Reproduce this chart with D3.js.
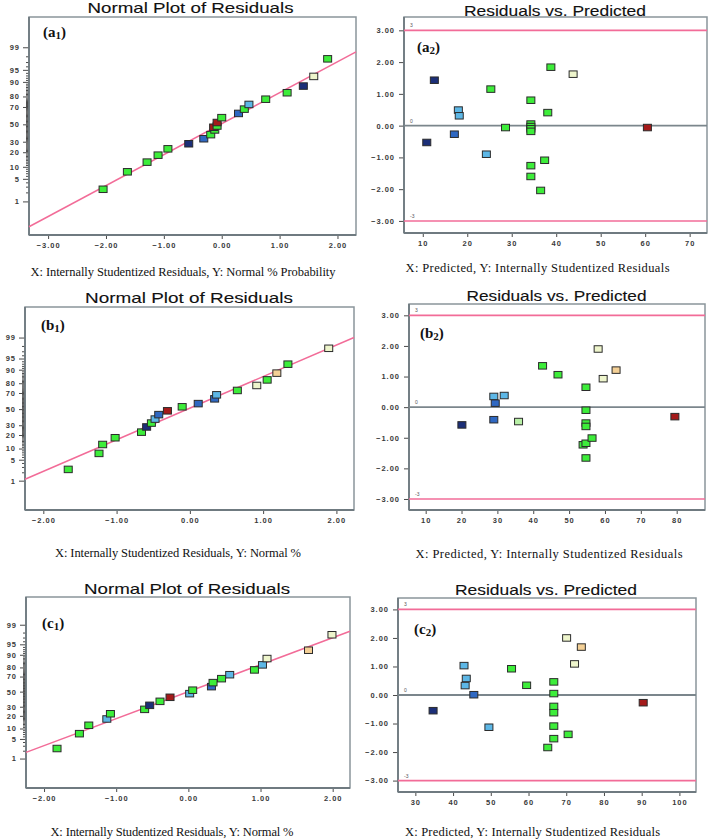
<!DOCTYPE html>
<html><head><meta charset="utf-8">
<script src="https://cdn.jsdelivr.net/npm/d3@7"></script>
<style>body{margin:0;background:#fff}</style></head>
<body><svg id="chart" width="709" height="840"></svg>
<script>
// ---------- DATA ----------
const probTicks = [1, 5, 10, 20, 30, 50, 70, 80, 90, 95, 99];
const resTicks = [-3, -2, -1, 0, 1, 2, 3];

// (a1) normal plot
const a1Res  = [-2.05, -1.63, -1.29, -1.10, -0.93, -0.57, -0.31, -0.19, -0.12, -0.14, -0.08, -0.08, 0.00, 0.29, 0.39, 0.47, 0.76, 1.13, 1.41, 1.59, 1.83];
const a1Prob = [2.5, 7.6, 12.7, 17.6, 23.0, 27.9, 33.2, 37.8, 43.3, 46.5, 48.0, 52.2, 58.0, 62.9, 67.7, 72.6, 77.6, 83.0, 87.6, 92.6, 97.6];
const a1Col  = ['g','g','g','g','g','n','b','g','g','r','g','r','g','b','g','l','g','g','n','c','g'];
const a1FitX = [-3.33, 2.32];
const a1FitP = [0.10, 98.57];
const a1XTicks = [-3, -2, -1, 0, 1, 2];

// (a2) residuals vs predicted
const a2Pred = [12.6, 10.9, 18.0, 18.2, 17.1, 25.3, 24.3, 28.6, 34.3, 34.3, 34.3, 34.3, 34.3, 34.3, 34.3, 36.5, 37.4, 38.1, 38.8, 43.8, 60.5];
const a2Res  = [1.43, -0.53, 0.49, 0.31, -0.27, 1.15, -0.90, -0.06, 0.80, 0.05, -0.03, -0.10, -0.18, -1.26, -1.60, -2.04, -1.09, 0.41, 1.84, 1.62, -0.06];
const a2Col  = ['n','n','l','l','b','g','l','g','g','g','g','g','g','g','g','g','g','g','g','c','r'];
const a2XTicks = [10, 20, 30, 40, 50, 60, 70];

// (b1) normal plot
const b1Res  = [-1.66, -1.24, -1.19, -1.02, -0.66, -0.59, -0.525, -0.475, -0.425, -0.306, -0.105, 0.114, 0.338, 0.365, 0.648, 0.913, 1.055, 1.187, 1.338, 1.895];
const b1Prob = [2.5, 7.5, 12.5, 17.6, 22.7, 28.1, 32.5, 37.3, 42.9, 47.8, 53.0, 57.1, 63.1, 67.9, 72.8, 77.9, 82.9, 87.9, 92.8, 97.6];
const b1Col  = ['g','g','g','g','g','n','g','l','b','r','g','b','b','l','g','c','g','o','g','c'];
const b1FitX = [-2.25, 2.24];
const b1FitP = [1.13, 99.01];
const b1XTicks = [-2, -1, 0, 1, 2];

// (b2) residuals vs predicted
const b2Pred = [20.1, 29.0, 29.4, 29.0, 31.9, 35.9, 42.6, 46.9, 54.7, 54.7, 54.7, 54.7, 53.9, 54.7, 56.4, 54.7, 58.1, 59.5, 63.1, 79.5];
const b2Res  = [-0.58, 0.35, 0.13, -0.41, 0.38, -0.47, 1.35, 1.06, 0.65, -0.10, -0.52, -0.63, -1.23, -1.18, -1.01, -1.66, 1.90, 0.93, 1.21, -0.31];
const b2Col  = ['n','l','b','b','l','p','g','g','g','g','g','g','g','g','g','g','c','c','o','r'];
const b2XTicks = [10, 20, 30, 40, 50, 60, 70, 80];

// (c1) normal plot
const c1Res  = [-1.82, -1.51, -1.38, -1.13, -1.08, -0.606, -0.536, -0.393, -0.254, 0.018, 0.06, 0.32, 0.342, 0.46, 0.573, 0.916, 1.027, 1.09, 1.665, 1.99];
const c1Prob = [2.4, 7.2, 12.1, 17.1, 22.1, 26.9, 31.7, 36.8, 42.2, 47.2, 52.0, 56.9, 62.3, 67.4, 72.2, 77.5, 82.4, 87.5, 92.5, 97.6];
const c1Col  = ['g','g','g','l','g','g','n','g','r','l','g','b','g','g','l','g','l','c','o','c'];
const c1FitX = [-2.25, 2.24];
const c1FitP = [1.74, 98.21];
const c1XTicks = [-2, -1, 0, 1, 2];

// (c2) residuals vs predicted
const c2Pred = [34.7, 42.9, 43.5, 43.2, 45.5, 49.5, 55.5, 59.5, 66.7, 66.7, 66.7, 66.7, 66.7, 66.7, 65.1, 70.5, 70.1, 74.0, 72.2, 90.4];
const c2Res  = [-0.55, 1.03, 0.58, 0.33, 0.01, -1.13, 0.92, 0.34, 0.46, 0.05, -0.40, -0.62, -1.09, -1.53, -1.84, -1.38, 2.00, 1.68, 1.09, -0.27];
const c2Col  = ['n','l','l','l','b','l','g','g','g','g','g','g','g','g','g','g','c','o','c','r'];
const c2XTicks = [30, 40, 50, 60, 70, 80, 90, 100];

// ---------- STYLE ----------
const palette = {g:'#3ded3a', n:'#1c2f78', b:'#2f68c2', l:'#5db7e6', c:'#eef5cc', o:'#f4d096', p:'#b8f0a6', r:'#a51a1a'};
const pink = '#f26c98';
const boxColor = '#8a959b';
const tickFont = 'Liberation Sans, Arial, sans-serif';

// inverse standard normal CDF (Acklam)
function probit(p) {
  const a=[-3.969683028665376e+01,2.209460984245205e+02,-2.759285104469687e+02,1.383577518672690e+02,-3.066479806614716e+01,2.506628277459239e+00];
  const b=[-5.447609879822406e+01,1.615858368580409e+02,-1.556989798598866e+02,6.680131188771972e+01,-1.328068155288572e+01];
  const c=[-7.784894002430293e-03,-3.223964580411365e-01,-2.400758277161838e+00,-2.549732539343734e+00,4.374664141464968e+00,2.938163982698783e+00];
  const d=[7.784695709041462e-03,3.224671290700398e-01,2.445134137142996e+00,3.754408661907416e+00];
  const pl=0.02425, ph=1-pl;
  let q,r;
  if (p<pl){ q=Math.sqrt(-2*Math.log(p)); return (((((c[0]*q+c[1])*q+c[2])*q+c[3])*q+c[4])*q+c[5])/((((d[0]*q+d[1])*q+d[2])*q+d[3])*q+1); }
  if (p<=ph){ q=p-0.5; r=q*q; return (((((a[0]*r+a[1])*r+a[2])*r+a[3])*r+a[4])*r+a[5])*q/(((((b[0]*r+b[1])*r+b[2])*r+b[3])*r+b[4])*r+1); }
  q=Math.sqrt(-2*Math.log(1-p)); return -(((((c[0]*q+c[1])*q+c[2])*q+c[3])*q+c[4])*q+c[5])/((((d[0]*q+d[1])*q+d[2])*q+d[3])*q+1);
}
// probability scale built on a linear z scale, usable by d3.axis
function probScale(z) {
  const s = p => z(probit(p/100));
  s.copy = () => probScale(z.copy());
  s.range = () => z.range();
  s.domain = () => z.domain();
  return s;
}

const svg = d3.select('#chart');

function styleTicks(g) {
  g.select('.domain').remove();
  g.selectAll('line').attr('stroke', '#4a4a4a').attr('stroke-width', 1);
  g.selectAll('text').attr('font-family', tickFont).attr('font-size', 7.5).attr('font-weight', 'bold')
    .attr('fill', '#3a3a3a').attr('letter-spacing', 1);
}

function drawBox(box) {
  svg.append('rect').attr('x', box[0]).attr('y', box[1]).attr('width', box[2]-box[0]).attr('height', box[3]-box[1])
    .attr('fill', 'none').attr('stroke', boxColor).attr('stroke-width', 1.5);
}

function drawText(t) {
  svg.append('text').attr('x', t.tx).attr('y', t.ty).attr('text-anchor', 'middle')
    .attr('font-family', 'Liberation Sans, Arial, sans-serif').attr('font-size', 15).attr('fill', '#111')
    .attr('stroke', '#111').attr('stroke-width', 0.12)
    .attr('textLength', t.tw).attr('lengthAdjust', 'spacingAndGlyphs').text(t.title);
  svg.append('text').attr('x', t.cx).attr('y', t.cy).attr('text-anchor', 'middle')
    .attr('font-family', 'Liberation Serif, Times New Roman, serif').attr('font-size', 12.5).attr('fill', '#111')
    .attr('textLength', t.cw).attr('lengthAdjust', 'spacing').text(t.caption);
  const lab = svg.append('text').attr('x', t.lx).attr('y', t.ly)
    .attr('font-family', 'Liberation Serif, Times New Roman, serif').attr('font-size', 15).attr('font-weight', 'bold').attr('fill', '#111');
  lab.append('tspan').text('(' + t.letter);
  lab.append('tspan').attr('font-size', 11).attr('dy', 2).text(t.sub);
  lab.append('tspan').attr('dy', -2).text(')');
}

function drawMarkers(g, xs, ys, cols, x, y) {
  const idx = d3.range(xs.length);
  g.selectAll('rect.pt').data(idx).join('rect').attr('class', 'pt')
    .attr('x', i => x(xs[i]) - 4).attr('y', i => y(ys[i]) - 3.25)
    .attr('width', 8).attr('height', 6.5)
    .attr('fill', i => palette[cols[i]]).attr('stroke', '#2b2b2b').attr('stroke-width', 1);
}

function normalPanel(o) {
  const [x0,y0,x1,y1] = o.box;
  const x = d3.scaleLinear().domain(o.xDom).range([x0, x1]);
  const z = d3.scaleLinear().domain(o.zDom).range([y1, y0]);
  const yp = probScale(z);
  drawBox(o.box);
  const minor = d3.range(1, 100).filter(v => !probTicks.includes(v));
  svg.append('g').attr('transform', `translate(${x0},0)`)
    .call(d3.axisLeft(yp).tickValues(minor).tickSize(3).tickFormat(''))
    .call(styleTicks);
  svg.append('g').attr('transform', `translate(${x0},0)`)
    .call(d3.axisLeft(yp).tickValues(probTicks).tickSize(6).tickPadding(3).tickFormat(d => d))
    .call(styleTicks);
  svg.append('g').attr('transform', `translate(0,${y1})`)
    .call(d3.axisBottom(x).tickValues(o.xTicks).tickSize(4).tickPadding(4).tickFormat(d3.format('.2f')))
    .call(styleTicks);
  svg.append('line').attr('x1', x0).attr('x2', x0).attr('y1', y0).attr('y2', y1).attr('stroke', '#6f7a80').attr('stroke-width', 1.8);
  svg.append('line').attr('x1', x0).attr('x2', x1).attr('y1', y1).attr('y2', y1).attr('stroke', '#6f7a80').attr('stroke-width', 1.8);
  const line = d3.line().x(d => x(d[0])).y(d => yp(d[1]));
  svg.append('path').datum(o.fitX.map((v, i) => [v, o.fitP[i]])).attr('d', line)
    .attr('fill', 'none').attr('stroke', pink).attr('stroke-width', 1.5);
  drawMarkers(svg.append('g'), o.res, o.prob, o.col, x, yp);
  drawText(o);
}

function residPanel(o) {
  const [x0,y0,x1,y1] = o.box;
  const x = d3.scaleLinear().domain(o.xDom).range([x0, x1]);
  const y = d3.scaleLinear().domain(o.yDom).range([y1, y0]);
  drawBox(o.box);
  svg.append('g').attr('transform', `translate(${x0},0)`)
    .call(d3.axisLeft(y).tickValues(resTicks).tickSize(5).tickPadding(4).tickFormat(d3.format('.2f')))
    .call(styleTicks);
  svg.append('g').attr('transform', `translate(0,${y1})`)
    .call(d3.axisBottom(x).tickValues(o.xTicks).tickSize(4).tickPadding(4).tickFormat(d => d))
    .call(styleTicks);
  svg.append('line').attr('x1', x0).attr('x2', x0).attr('y1', y0).attr('y2', y1).attr('stroke', '#6f7a80').attr('stroke-width', 1.8);
  svg.append('line').attr('x1', x0).attr('x2', x1).attr('y1', y1).attr('y2', y1).attr('stroke', '#6f7a80').attr('stroke-width', 1.8);
  [[3, pink, 1.6, '3'], [-3, pink, 1.6, '-3'], [0, '#7b868c', 1.8, '0']].forEach(([v, c, w, lbl]) => {
    svg.append('line').attr('x1', x0).attr('x2', x1).attr('y1', y(v)).attr('y2', y(v)).attr('stroke', c).attr('stroke-width', w);
    svg.append('text').attr('x', x0 + 6).attr('y', y(v) - 3).attr('font-family', tickFont).attr('font-size', 5)
      .attr('fill', '#555').text(lbl);
  });
  drawMarkers(svg.append('g'), o.pred, o.res, o.col, x, y);
  drawText(o);
}

const capN1 = 'X: Internally Studentized Residuals, Y: Normal % Probability';
const capN = 'X: Internally Studentized Residuals, Y: Normal %';
const capR = 'X: Predicted, Y: Internally Studentized Residuals';

normalPanel({box:[29,17,356,235], xDom:[-3.33,2.32], zDom:[-3.34,3.24], xTicks:a1XTicks,
  res:a1Res, prob:a1Prob, col:a1Col, fitX:a1FitX, fitP:a1FitP,
  title:'Normal Plot of Residuals', tx:190.5, ty:13, tw:206, caption:capN1, cx:183, cy:276, cw:305, letter:'a', sub:'1', lx:43, ly:37});
residPanel({box:[404,17,707,233], xDom:[5.78,73.9], yDom:[-3.38,3.42], xTicks:a2XTicks,
  pred:a2Pred, res:a2Res, col:a2Col,
  title:'Residuals vs. Predicted', tx:555, ty:15.5, tw:182, caption:capR, cx:537.5, cy:272, cw:264, letter:'a', sub:'2', lx:417, ly:52});
normalPanel({box:[25,307,354,510], xDom:[-2.25,2.24], zDom:[-3.28,3.32], xTicks:b1XTicks,
  res:b1Res, prob:b1Prob, col:b1Col, fitX:b1FitX, fitP:b1FitP,
  title:'Normal Plot of Residuals', tx:189, ty:303, tw:208, caption:capN, cx:178, cy:557, cw:246, letter:'b', sub:'1', lx:41, ly:330});
residPanel({box:[409,304,705,510], xDom:[5.35,87.9], yDom:[-3.36,3.37], xTicks:b2XTicks,
  pred:b2Pred, res:b2Res, col:b2Col,
  title:'Residuals vs. Predicted', tx:556.5, ty:300.5, tw:180, caption:capR, cx:549, cy:558, cw:267, letter:'b', sub:'2', lx:420, ly:338});
normalPanel({box:[26,597,350,788], xDom:[-2.25,2.24], zDom:[-3.35,3.29], xTicks:c1XTicks,
  res:c1Res, prob:c1Prob, col:c1Col, fitX:c1FitX, fitP:c1FitP,
  title:'Normal Plot of Residuals', tx:187, ty:594, tw:206, caption:capN, cx:172, cy:836, cw:243, letter:'c', sub:'1', lx:42, ly:628});
residPanel({box:[398,598,696,792], xDom:[25.4,104.4], yDom:[-3.40,3.40], xTicks:c2XTicks,
  pred:c2Pred, res:c2Res, col:c2Col,
  title:'Residuals vs. Predicted', tx:546, ty:595, tw:182, caption:capR, cx:532.5, cy:836, cw:255, letter:'c', sub:'2', lx:414, ly:634});
</script></body></html>
